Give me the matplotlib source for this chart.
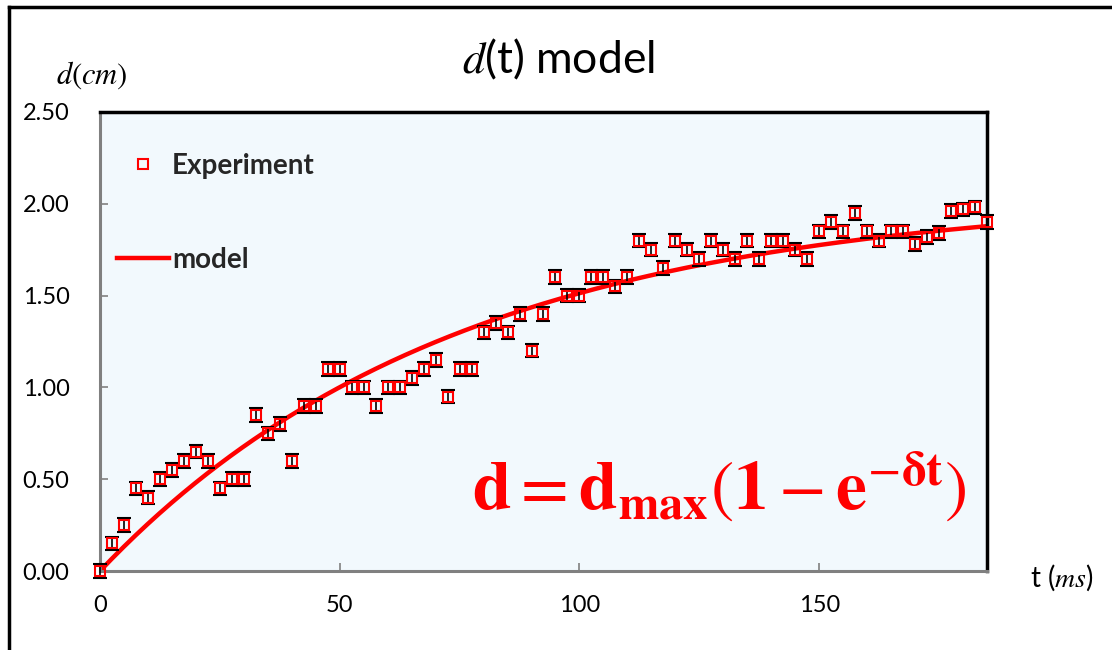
"""
d(t) model: measured displacement vs exponential saturation model
"""

import numpy as np
import matplotlib
matplotlib.use("Agg")
import matplotlib.pyplot as plt
from matplotlib.lines import Line2D

plt.rcParams['font.family'] = ['Lato', 'DejaVu Sans']
plt.rcParams['mathtext.fontset'] = 'stix'

# measured points, t in ms, d in cm
t_exp = [0, 2.5, 5, 7.5, 10, 12.5, 15, 17.5, 20, 22.5,
         25, 27.5, 30, 32.5, 35, 37.5, 40, 42.5, 45, 47.5,
         50, 52.5, 55, 57.5, 60, 62.5, 65, 67.5, 70, 72.5,
         75, 77.5, 80, 82.5, 85, 87.5, 90, 92.5, 95, 97.5,
         100, 102.5, 105, 107.5, 110, 112.5, 115, 117.5, 120, 122.5,
         125, 127.5, 130, 132.5, 135, 137.5, 140, 142.5, 145, 147.5,
         150, 152.5, 155, 157.5, 160, 162.5, 165, 167.5, 170, 172.5,
         175, 177.5, 180, 182.5, 185]
d_exp = [0.00, 0.15, 0.25, 0.45, 0.40, 0.50, 0.55, 0.60, 0.65, 0.60,
         0.45, 0.50, 0.50, 0.85, 0.75, 0.80, 0.60, 0.90, 0.90, 1.10,
         1.10, 1.00, 1.00, 0.90, 1.00, 1.00, 1.05, 1.10, 1.15, 0.95,
         1.10, 1.10, 1.30, 1.35, 1.30, 1.40, 1.20, 1.40, 1.60, 1.50,
         1.50, 1.60, 1.60, 1.55, 1.60, 1.80, 1.75, 1.65, 1.80, 1.75,
         1.70, 1.80, 1.75, 1.70, 1.80, 1.70, 1.80, 1.80, 1.75, 1.70,
         1.85, 1.90, 1.85, 1.95, 1.85, 1.80, 1.85, 1.85, 1.78, 1.82,
         1.84, 1.96, 1.97, 1.98, 1.90]
d_err = 0.037

# model parameters
D_MAX = 2.05  # cm
DELTA = 0.0134  # 1/ms

y_ticks = [0.0, 0.5, 1.0, 1.5, 2.0, 2.5]
x_ticks = [0, 50, 100, 150]

t_model = np.linspace(0, 185, 300)
d_model = D_MAX*(1-np.exp(-DELTA*t_model))

fig = plt.figure(figsize=(11.12, 6.5), dpi=100)
ax = fig.add_axes([0.0899, 0.1215, 0.7977, 0.7062])
ax.set_facecolor('#F2F9FD')

ax.plot(t_model, d_model, color='#FF0000', linewidth=3.2, label='model', zorder=2)
ax.errorbar(t_exp, d_exp, yerr=d_err, fmt='s', mfc='none', mec='#FF0000', mew=1.5,
            markersize=6.5, ecolor='black', elinewidth=1.2, capsize=5, capthick=1.8,
            label='Experiment', zorder=3, clip_on=False)

ax.set_xlim(0, 185)
ax.set_ylim(0, 2.5)
ax.set_xticks(x_ticks)
ax.set_yticks(y_ticks)
ax.set_yticklabels(['{:.2f}'.format(v) for v in y_ticks])
ax.tick_params(direction='in', length=6, width=1.2, color='#808080', labelsize=17)
ax.tick_params(axis='y', pad=22)
ax.tick_params(axis='x', pad=17)

for s in ['left', 'bottom']:
    ax.spines[s].set_color('#808080')
    ax.spines[s].set_linewidth(2.2)
for s in ['top', 'right']:
    ax.spines[s].set_color('black')
    ax.spines[s].set_linewidth(2.5)

# legend: marker only for experiment, line for model
h_exp = Line2D([], [], marker='s', linestyle='none', mfc='none', mec='#FF0000', mew=1.5, markersize=6.5)
h_mod = Line2D([], [], color='#FF0000', linewidth=3.2)
leg = ax.legend([h_exp, h_mod], ['Experiment', 'model'], loc='upper left', frameon=False,
                prop={'weight': 'bold', 'size': 20}, labelspacing=2.45, handlelength=1.85,
                handletextpad=0.12, borderaxespad=0.0, bbox_to_anchor=(0.007, 0.935))
for txt in leg.get_texts():
    txt.set_color('#262626')

ax.text(0.698, 0.185, r'$\mathbf{d}=\mathbf{d}_{\mathbf{max}}(\mathbf{1}-\mathbf{e}^{-\mathbf{δt}})$',
        transform=ax.transAxes, ha='center', va='center', color='#FF0000', fontsize=50)

fig.text(0.502, 0.908, r'$d$(t) model', ha='center', va='center', fontsize=32)
fig.text(0.083, 0.884, r'$d(cm)$', ha='center', va='center', fontsize=22)
fig.text(0.926, 0.111, r't ($ms$)', ha='left', va='center', fontsize=20)

# border of the original screenshot (top and left edges)
fig.add_artist(Line2D([0.008, 1.0], [0.989, 0.989], color='black', linewidth=2.5, transform=fig.transFigure))
fig.add_artist(Line2D([0.008, 0.008], [0.0, 0.989], color='black', linewidth=2.5, transform=fig.transFigure))

fig.savefig('out.png', dpi=100)
plt.close(fig)
